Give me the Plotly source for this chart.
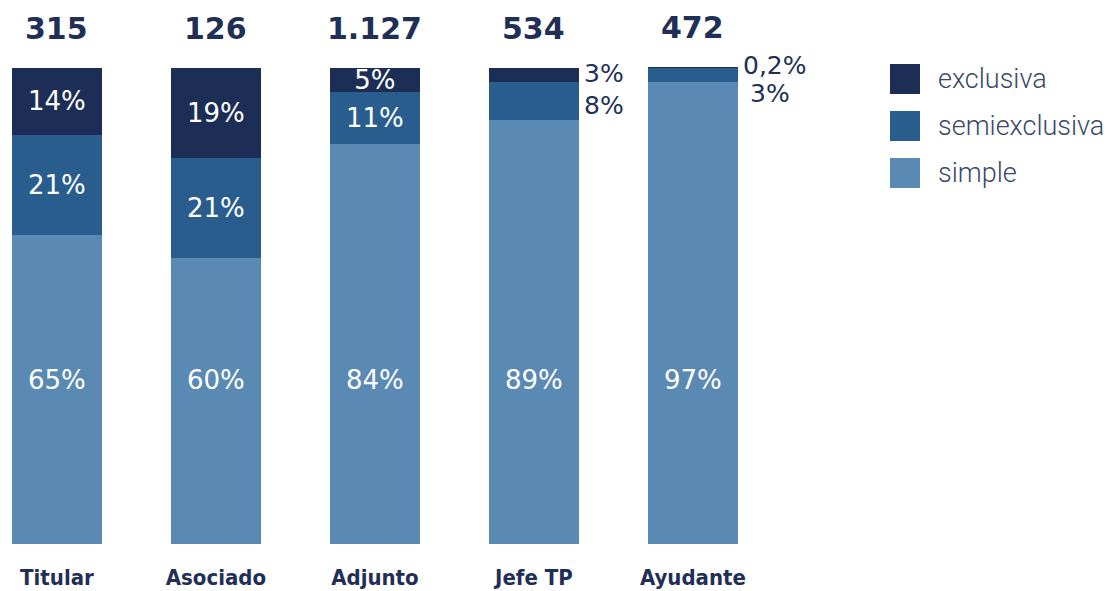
import plotly.graph_objects as go

# Planta docente por cargo y dedicación (porcentajes por cargo)
categories = ["Titular", "Asociado", "Adjunto", "Jefe TP", "Ayudante"]
totals = [315, 126, 1127, 534, 472]
simple = [65, 60, 84, 89, 97]
semiexclusiva = [21, 21, 11, 8, 3]
exclusiva = [14, 19, 5, 3, 0.2]

# cargos whose thin segments are labelled beside the bar
labels_outside = ["Jefe TP", "Ayudante"]

DARK = "#1c2e55"
MID = "#285d8e"
LIGHT = "#5a89b4"
TEXT = "#1f2f55"
NUM_FONT = "'DejaVu Sans', sans-serif"
LEGEND_FONT = "Roboto, sans-serif"
CAT_FONT = "'DejaVu Sans Condensed', 'Liberation Sans Narrow', sans-serif"

Y_MAX = 100.2
SIMPLE_LABEL_Y = 34.4  # common height for the "simple" labels


def pct(v):
    return f"{v:g}".replace(".", ",") + "%"


def thousands(n):
    return f"{n:,}".replace(",", ".")


series = [
    ("simple", simple, LIGHT),
    ("semiexclusiva", semiexclusiva, MID),
    ("exclusiva", exclusiva, DARK),
]

fig = go.Figure()
for name, vals, color in series:
    if name == "simple":
        text = None
    else:
        text = ["" if c in labels_outside else pct(v) for c, v in zip(categories, vals)]
    fig.add_trace(go.Bar(
        x=categories, y=vals, name=name, marker=dict(color=color, line=dict(width=0)),
        width=0.566, text=text, textposition="inside" if text else "none",
        insidetextanchor="middle", constraintext="none", textangle=0,
        textfont=dict(family=NUM_FONT, size=26, color="white"),
        showlegend=False, hoverinfo="skip",
    ))

annotations = []
# "simple" share, written at a common height inside each bar
for c, s in zip(categories, simple):
    annotations.append(dict(
        x=c, y=SIMPLE_LABEL_Y, xref="x", yref="y", text=pct(s), showarrow=False,
        font=dict(family=NUM_FONT, size=26, color="white"),
    ))

# totals above each bar
for c, s, m, e, n in zip(categories, simple, semiexclusiva, exclusiva, totals):
    annotations.append(dict(
        x=c, y=s + m + e, xref="x", yref="y", text=f"<b>{thousands(n)}</b>",
        showarrow=False, yanchor="bottom", yshift=20,
        font=dict(family=NUM_FONT, size=30, color=TEXT),
    ))

# labels placed to the right of thin segments
for c, s, m, e in zip(categories, simple, semiexclusiva, exclusiva):
    if c not in labels_outside:
        continue
    annotations.append(dict(
        x=c, y=s + m + e / 2, xref="x", yref="y", text=pct(e),
        showarrow=False, xanchor="left", xshift=48, yshift=2,
        font=dict(family=NUM_FONT, size=25, color=TEXT),
    ))
    annotations.append(dict(
        x=c, y=s + m / 2, xref="x", yref="y", text=pct(m),
        showarrow=False, xanchor="left",
        xshift=48 if m > 5 else 55,
        yshift=-4 if m > 5 else -18,
        font=dict(family=NUM_FONT, size=25, color=TEXT),
    ))

# legend with large swatches
shapes = []
legend_items = [("exclusiva", DARK), ("semiexclusiva", MID), ("simple", LIGHT)]
W = 800.0
H = 477.0
for i, (name, color) in enumerate(legend_items):
    yc = 79 + 47 * i  # row centre, pixels from the top of the page
    y_top = 1 + (67 - (yc - 15)) / H
    y_bot = 1 + (67 - (yc + 15)) / H
    shapes.append(dict(
        type="rect", xref="paper", yref="paper",
        x0=890 / W, x1=920 / W, y0=y_bot, y1=y_top,
        fillcolor=color, line=dict(width=0),
    ))
    annotations.append(dict(
        xref="paper", yref="paper", x=936 / W, y=1 + (67 - yc) / H,
        text=name, showarrow=False, xanchor="left", yanchor="middle",
        font=dict(family=LEGEND_FONT, size=27, color="#3a4868", weight=300),
    ))

fig.update_layout(
    barmode="stack",
    width=1110, height=591,
    margin=dict(l=0, r=1110 - 800, t=67, b=47, pad=0),
    paper_bgcolor="white", plot_bgcolor="white",
    annotations=annotations, shapes=shapes,
    showlegend=False,
    xaxis=dict(
        type="category", range=[-0.358, -0.358 + 800 / 159],
        showgrid=False, zeroline=False, showline=False,
        ticks="outside", ticklen=14, tickcolor="rgba(0,0,0,0)",
        tickfont=dict(family=CAT_FONT, size=22, color=TEXT, weight=700),
        fixedrange=True,
    ),
    yaxis=dict(
        range=[0, Y_MAX], visible=False, showgrid=False, zeroline=False, fixedrange=True,
    ),
)

fig.write_html("out.html")
